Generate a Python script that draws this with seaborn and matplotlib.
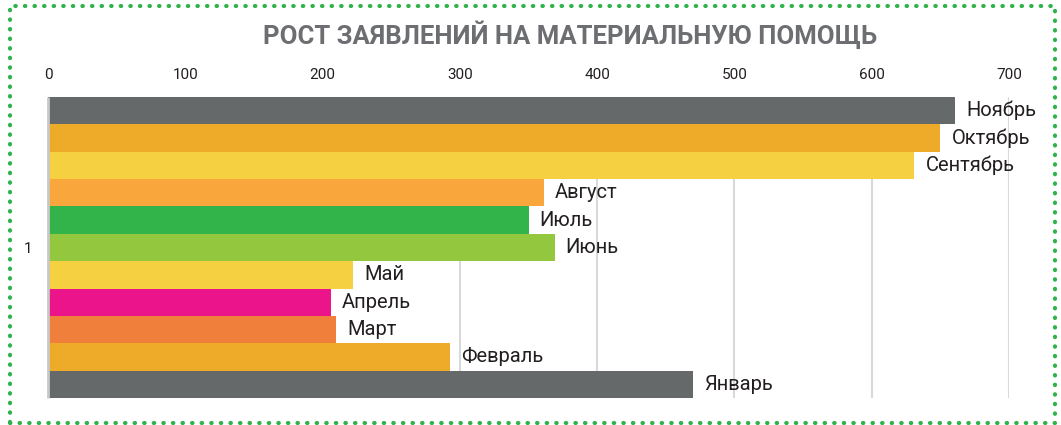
import numpy as np
import pandas as pd
import matplotlib.pyplot as plt
import seaborn as sns
from matplotlib.patches import Rectangle

# data, top bar first
months = ["Ноябрь", "Октябрь", "Сентябрь", "Август", "Июль", "Июнь",
          "Май", "Апрель", "Март", "Февраль", "Январь"]
values = [661, 650, 631, 361, 350, 369, 222, 206, 210, 293, 470]
colors = ["#65696a", "#eeab2a", "#f5d142", "#f9a73c", "#33b44a", "#93c83e",
          "#f5d142", "#ec148b", "#f07f3c", "#eeab2a", "#65696a"]
category = ["1"] * len(months)
x_ticks = [0, 100, 200, 300, 400, 500, 600, 700]

df = pd.DataFrame({"cat": category, "month": months, "value": values})

sns.set_style("white")
plt.rcParams['font.family'] = ['Roboto', 'DejaVu Sans']

plt.close('all')
fig = plt.figure(figsize=(10.61, 4.25), dpi=100)
ax = fig.add_axes([48 / 1061, 27 / 425, 961 / 1061, 301 / 425])

sns.barplot(data=df, y="cat", x="value", hue="month", hue_order=months,
            palette=colors, saturation=1, orient="h", dodge=True, width=1.0,
            linewidth=0, legend=False, ax=ax, errorbar=None)

# month names at the end of each bar
for cont, name in zip(ax.containers, months):
    ax.bar_label(cont, labels=[name], padding=8, fontsize=14.5,
                 color="#231f20")

ax.set_xlim(0, 700)
ax.set_ylim(0.5, -0.5)
ax.set_xticks(x_ticks)
ax.xaxis.tick_top()
ax.tick_params(axis="x", length=0, pad=11, labelsize=11, labelcolor="#231f20")
ax.tick_params(axis="y", length=0, pad=11, labelsize=11, labelcolor="#231f20")
ax.set_xlabel("")
ax.set_ylabel("")
ax.grid(axis="x", color="#d9d9d9", linewidth=1.5)
ax.set_axisbelow(True)
for s in ["top", "right", "bottom"]:
    ax.spines[s].set_visible(False)
ax.spines["left"].set_color("#c8c8c8")
ax.spines["left"].set_linewidth(2)
ax.spines["left"].set_capstyle("butt")

fig.text(570 / 1061, 1 - 35 / 425, "РОСТ ЗАЯВЛЕНИЙ НА МАТЕРИАЛЬНУЮ ПОМОЩЬ",
         ha="center", va="center", fontsize=18.5, fontweight="bold", color="#6d6e71")

# dotted green frame
fig.patches.append(Rectangle((10 / 1061, 2 / 425), 1045 / 1061, 417 / 425,
                             transform=fig.transFigure, fill=False,
                             edgecolor="#2db34a", linewidth=3,
                             linestyle=(0, (0.1, 2.2)), capstyle="round"))

plt.savefig("out.png", dpi=100)
